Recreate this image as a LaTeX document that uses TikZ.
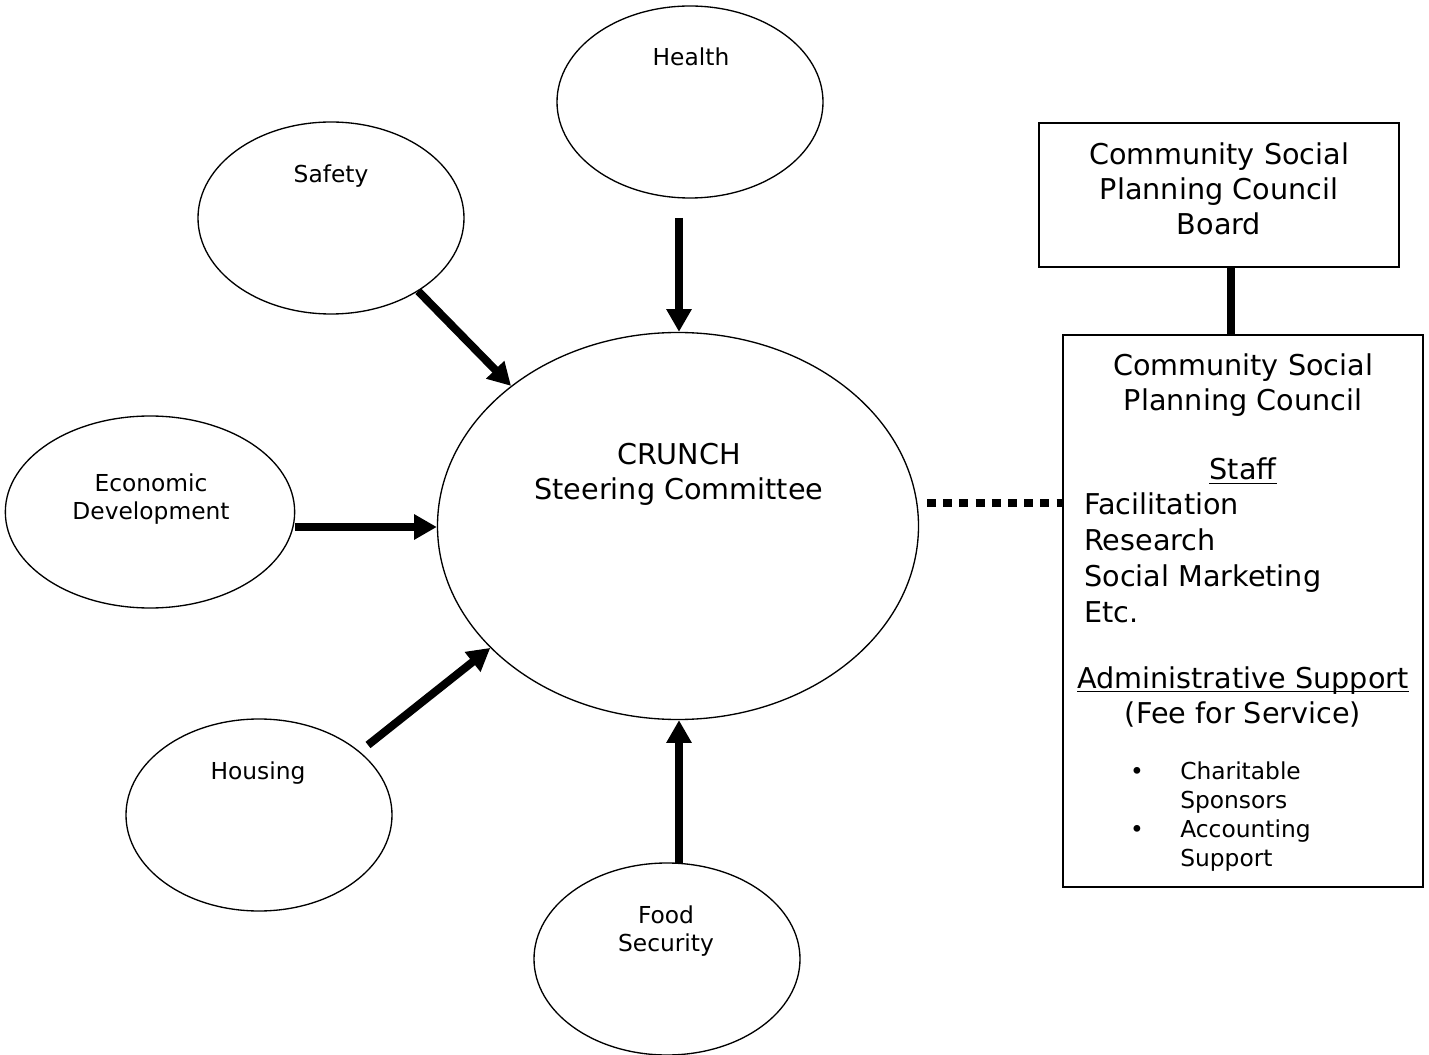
\documentclass[tikz,border=0pt]{standalone}
\usepackage{fontspec}
\setmainfont{DejaVu Sans}
\usetikzlibrary{arrows.meta,shapes.geometric}
\tikzset{
  bub/.style={ellipse, draw, line width=1pt, inner sep=0pt, minimum width=199.5pt, minimum height=144pt},
  boxn/.style={rectangle, draw, line width=1.4pt, inner sep=0pt},
  sm/.style={font=\fontsize{17.5}{21.75}\selectfont, anchor=base, inner sep=0pt},
  bg/.style={font=\fontsize{21.5}{26.25}\selectfont, anchor=base, inner sep=0pt},
  arr/.style={line width=6pt, -{Triangle[length=17pt,width=18pt]}},
  thickline/.style={line width=6pt},
  dotline/.style={line width=6pt, dash pattern=on 6.75pt off 5.4pt},
  ul/.style={line width=1.1pt}
}
\begin{document}
\begin{tikzpicture}[x=0.75pt,y=-0.75pt]
\useasboundingbox (0,0) rectangle (1429,1055);
% ellipses
\node[bub] (health) at (690,102) {};
\node[bub] (safety) at (331,218) {};
\node[bub, minimum width=217pt] (econ) at (150,512) {};
\node[bub] (housing) at (259,815) {};
\node[bub] (food) at (667,959) {};
\node[bub, minimum width=360.75pt, minimum height=290.25pt] (crunch) at (678,526) {};
% ellipse texts
\node[sm] (healthT) at (691,66) {Health};
\node[sm] (safetyT) at (331,183) {Safety};
\node[sm] (econT1) at (151,492) {Economic};
\node[sm] (econT2) at (151,520) {Development};
\node[sm] (housingT) at (258,779) {Housing};
\node[sm] (foodT1) at (666,923) {Food};
\node[sm] (foodT2) at (666,951) {Security};
\node[bg] (crunchT1) at (679,465) {CRUNCH};
\node[bg] (crunchT2) at (679,500) {Steering Committee};
% boxes
\node[boxn, minimum width=270pt, minimum height=108pt] (board) at (1219,195) {};
\node[boxn, minimum width=270pt, minimum height=414pt] (council) at (1243,611) {};
\node[bg] (boardT1) at (1219,164.5) {Community Social};
\node[bg] (boardT2) at (1219,199.5) {Planning Council};
\node[bg] (boardT3) at (1219,234.5) {Board};
\node[bg] (cT1) at (1243,376) {Community Social};
\node[bg] (cT2) at (1243,411) {Planning Council};
\node[bg] (staff) at (1243,480) {Staff};
\draw[ul] ([yshift=-2.6pt]staff.base west) -- ([yshift=-2.6pt]staff.base east);
\node[bg, anchor=base west] (s1) at (1084,515) {Facilitation};
\node[bg, anchor=base west] (s2) at (1084,551) {Research};
\node[bg, anchor=base west] (s3) at (1084,586) {Social Marketing};
\node[bg, anchor=base west] (s4) at (1084,622) {Etc.};
\node[bg] (adm) at (1243,688) {Administrative Support};
\draw[ul] ([yshift=-2.6pt]adm.base west) -- ([yshift=-2.6pt]adm.base east);
\node[bg] (fee) at (1243,723) {(Fee for Service)};
\node[sm] (b1) at (1137,779) {•};
\node[sm, anchor=base west] (b1T1) at (1180,779) {Charitable};
\node[sm, anchor=base west] (b1T2) at (1180,808) {Sponsors};
\node[sm] (b2) at (1137,837) {•};
\node[sm, anchor=base west] (b2T1) at (1180,837) {Accounting};
\node[sm, anchor=base west] (b2T2) at (1180,866) {Support};
% connectors
\coordinate (bc) at (1231,0);
\draw[thickline] (bc |- board.south) -- (bc |- council.north);
\coordinate (dl) at (927,503);
\draw[dotline] (dl) -- (dl -| council.west);
\coordinate (hA) at (679,218);
\draw[arr] (hA) -- (hA |- crunch.north);
\draw[arr] (safety.-40) -- (crunch.140);
\coordinate (eA) at (295,527);
\draw[arr] (eA) -- (eA -| crunch.west);
\coordinate (hoA) at (368,745);
\draw[arr] (hoA) -- (crunch.213);
\coordinate (fA) at (679,863);
\draw[arr] (fA) -- (fA |- crunch.south);
\end{tikzpicture}
\end{document}
